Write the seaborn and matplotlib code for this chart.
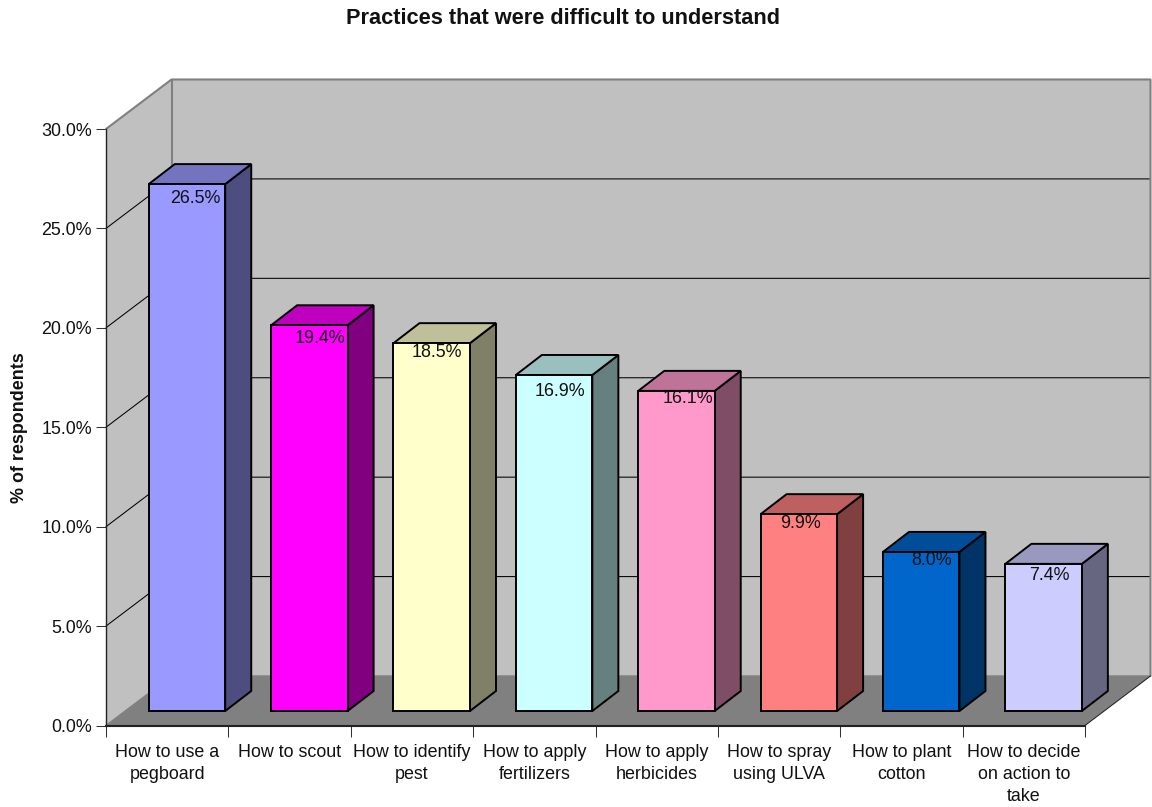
import matplotlib
matplotlib.use("Agg")
import matplotlib.pyplot as plt
from matplotlib.transforms import Affine2D
import pandas as pd
import seaborn as sns

practices = [
    "How to use a\npegboard", "How to scout", "How to identify\npest",
    "How to apply\nfertilizers", "How to apply\nherbicides",
    "How to spray\nusing ULVA", "How to plant\ncotton",
    "How to decide\non action to\ntake",
]
shares = [26.5, 19.4, 18.5, 16.9, 16.1, 9.9, 8.0, 7.4]
front_colors = ["#9999FF", "#FF00FF", "#FFFFCC", "#CCFFFF",
                "#FF99CC", "#FF8080", "#0066CC", "#CCCCFF"]
y_ticks = [0, 5, 10, 15, 20, 25, 30]

# Pixel nudges of the value labels from each bar's top centre
label_nudge_x = [8, 10.6, 5, 6, 11.7, 2, 10.6, 6]
label_nudge_y = [-14.5, -13.5, -9.8, -17, -7.5, -9.7, -8.2, -11.3]

FONT = "Liberation Sans"
TEXT_SIZE = 12.9
W, H = 1152, 807
AX_L, AX_R, AX_B, AX_T = 106, 1085, 725.5, 129
sns.set_theme(style="white")
plt.rcParams["font.family"] = [FONT, "DejaVu Sans"]

fig = plt.figure(figsize=(W / 100, H / 100), dpi=100, facecolor="white")
ax = fig.add_axes([AX_L / W, 1 - AX_B / H, (AX_R - AX_L) / W, (AX_B - AX_T) / H])
ax.patch.set_visible(False)

df = pd.DataFrame({"practice": practices, "share": shares})
sns.barplot(data=df, x="practice", y="share", hue="practice", palette=front_colors,
            width=0.625, legend=False, ax=ax, saturation=1,
            edgecolor="black", linewidth=1.4, zorder=4)
ax.set_xlim(-0.5, 7.5)
ax.set_ylim(0, 30)

# Conversion from screen pixels to data units for the oblique projection
px_x = 8 / (AX_R - AX_L)
px_y = 30 / (AX_B - AX_T)
wall_dx, wall_dy = 65.5 * px_x, 49.5 * px_y
bar_dx, bar_dy = 26 * px_x, 20 * px_y
left, right = -0.5, 7.5

kw = dict(clip_on=False)
# Back wall, side wall and floor of the chart box
ax.fill([left + wall_dx, right + wall_dx, right + wall_dx, left + wall_dx],
        [wall_dy, wall_dy, 30 + wall_dy, 30 + wall_dy], color="#C0C0C0", lw=0, zorder=0.5, **kw)
ax.fill([left, left + wall_dx, left + wall_dx, left],
        [0, wall_dy, 30 + wall_dy, 30], color="#C0C0C0", lw=0, zorder=0.5, **kw)
ax.fill([left, right, right + wall_dx, left + wall_dx],
        [0, 0, wall_dy, wall_dy], color="#808080", lw=0, zorder=0.6, **kw)

# Gridlines run up the side wall and across the back wall
for t in y_ticks[1:-1]:
    ax.plot([left, left + wall_dx, right + wall_dx],
            [t, t + wall_dy, t + wall_dy], color="black", lw=0.75, zorder=1, **kw)

# Box outline
ax.plot([left, left + wall_dx, right + wall_dx, right + wall_dx],
        [30, 30 + wall_dy, 30 + wall_dy, wall_dy], color="#808080", lw=1.5, zorder=1.2, **kw)
ax.plot([left + wall_dx, left + wall_dx], [wall_dy, 30 + wall_dy], color="#808080", lw=1.5, zorder=1.2, **kw)
ax.plot([left, left + wall_dx, right + wall_dx], [0, wall_dy, wall_dy], color="#808080", lw=1.0, zorder=1.2, **kw)
ax.plot([right, right + wall_dx], [0, wall_dy], color="#222222", lw=0.75, zorder=1.2, **kw)

# Bars stand inside the box, pushed back from the front plane
inset = ax.transData + Affine2D().translate(19.8, 14.5)
half = 0.625 / 2


def shade(hex_color, factor):
    rgb = matplotlib.colors.to_rgb(hex_color)
    return tuple(c * factor for c in rgb)


for i, (value, color) in enumerate(zip(shares, front_colors)):
    ax.fill([i + half, i + half + bar_dx, i + half + bar_dx, i + half],
            [0, bar_dy, value + bar_dy, value], facecolor=shade(color, 0.5),
            edgecolor="black", lw=1.4, zorder=3.5, transform=inset, joinstyle="miter", **kw)
    ax.fill([i - half, i + half, i + half + bar_dx, i - half + bar_dx],
            [value, value, value + bar_dy, value + bar_dy], facecolor=shade(color, 0.75),
            edgecolor="black", lw=1.4, zorder=3.5, transform=inset, joinstyle="miter", **kw)
    ax.annotate(f"{value:.1f}%", (i, value), xycoords=inset,
                xytext=(label_nudge_x[i] * 0.72, label_nudge_y[i] * 0.72),
                textcoords="offset points", ha="center", va="center",
                fontsize=TEXT_SIZE, color="#111111", zorder=6, annotation_clip=False)

for bar in ax.containers:
    for rect in bar:
        rect.set_transform(inset)
        rect.set_clip_on(False)

sns.despine(ax=ax, top=True, right=True)
for side in ("left", "bottom"):
    ax.spines[side].set_color("#222222")
    ax.spines[side].set_linewidth(1.0)
    ax.spines[side].set_zorder(2)
ax.spines["bottom"].set_linewidth(1.5)

ax.set_yticks(y_ticks)
ax.set_yticklabels([f"{t:.1f}%" for t in y_ticks], fontsize=TEXT_SIZE, color="#111111")
ax.set_xticks([k - 0.5 for k in range(9)])
ax.set_xticklabels([""] * 9)
ax.tick_params(axis="y", left=True, length=7, width=0.75, color="#333333", pad=3)
ax.tick_params(axis="x", bottom=True, length=8, width=0.75, color="#333333", pad=0)
for i, name in enumerate(practices):
    ax.annotate(name, (i, 0), xycoords=("data", "axes fraction"),
                xytext=(0, -13), textcoords="offset points",
                ha="center", va="top", fontsize=TEXT_SIZE, linespacing=1.4, color="#111111",
                annotation_clip=False)

ax.set_xlabel("")
ax.set_ylabel("")
fig.text(20 / W, 1 - 427.5 / H, "% of respondents", rotation=90, ha="center", va="center",
         fontsize=TEXT_SIZE, fontweight="bold", color="#111111")
fig.text(563.5 / W, 1 - 19 / H, "Practices that were difficult to understand",
         ha="center", va="center", fontsize=15.7, fontweight="bold", color="#111111")

fig.savefig("out.png", dpi=100)
